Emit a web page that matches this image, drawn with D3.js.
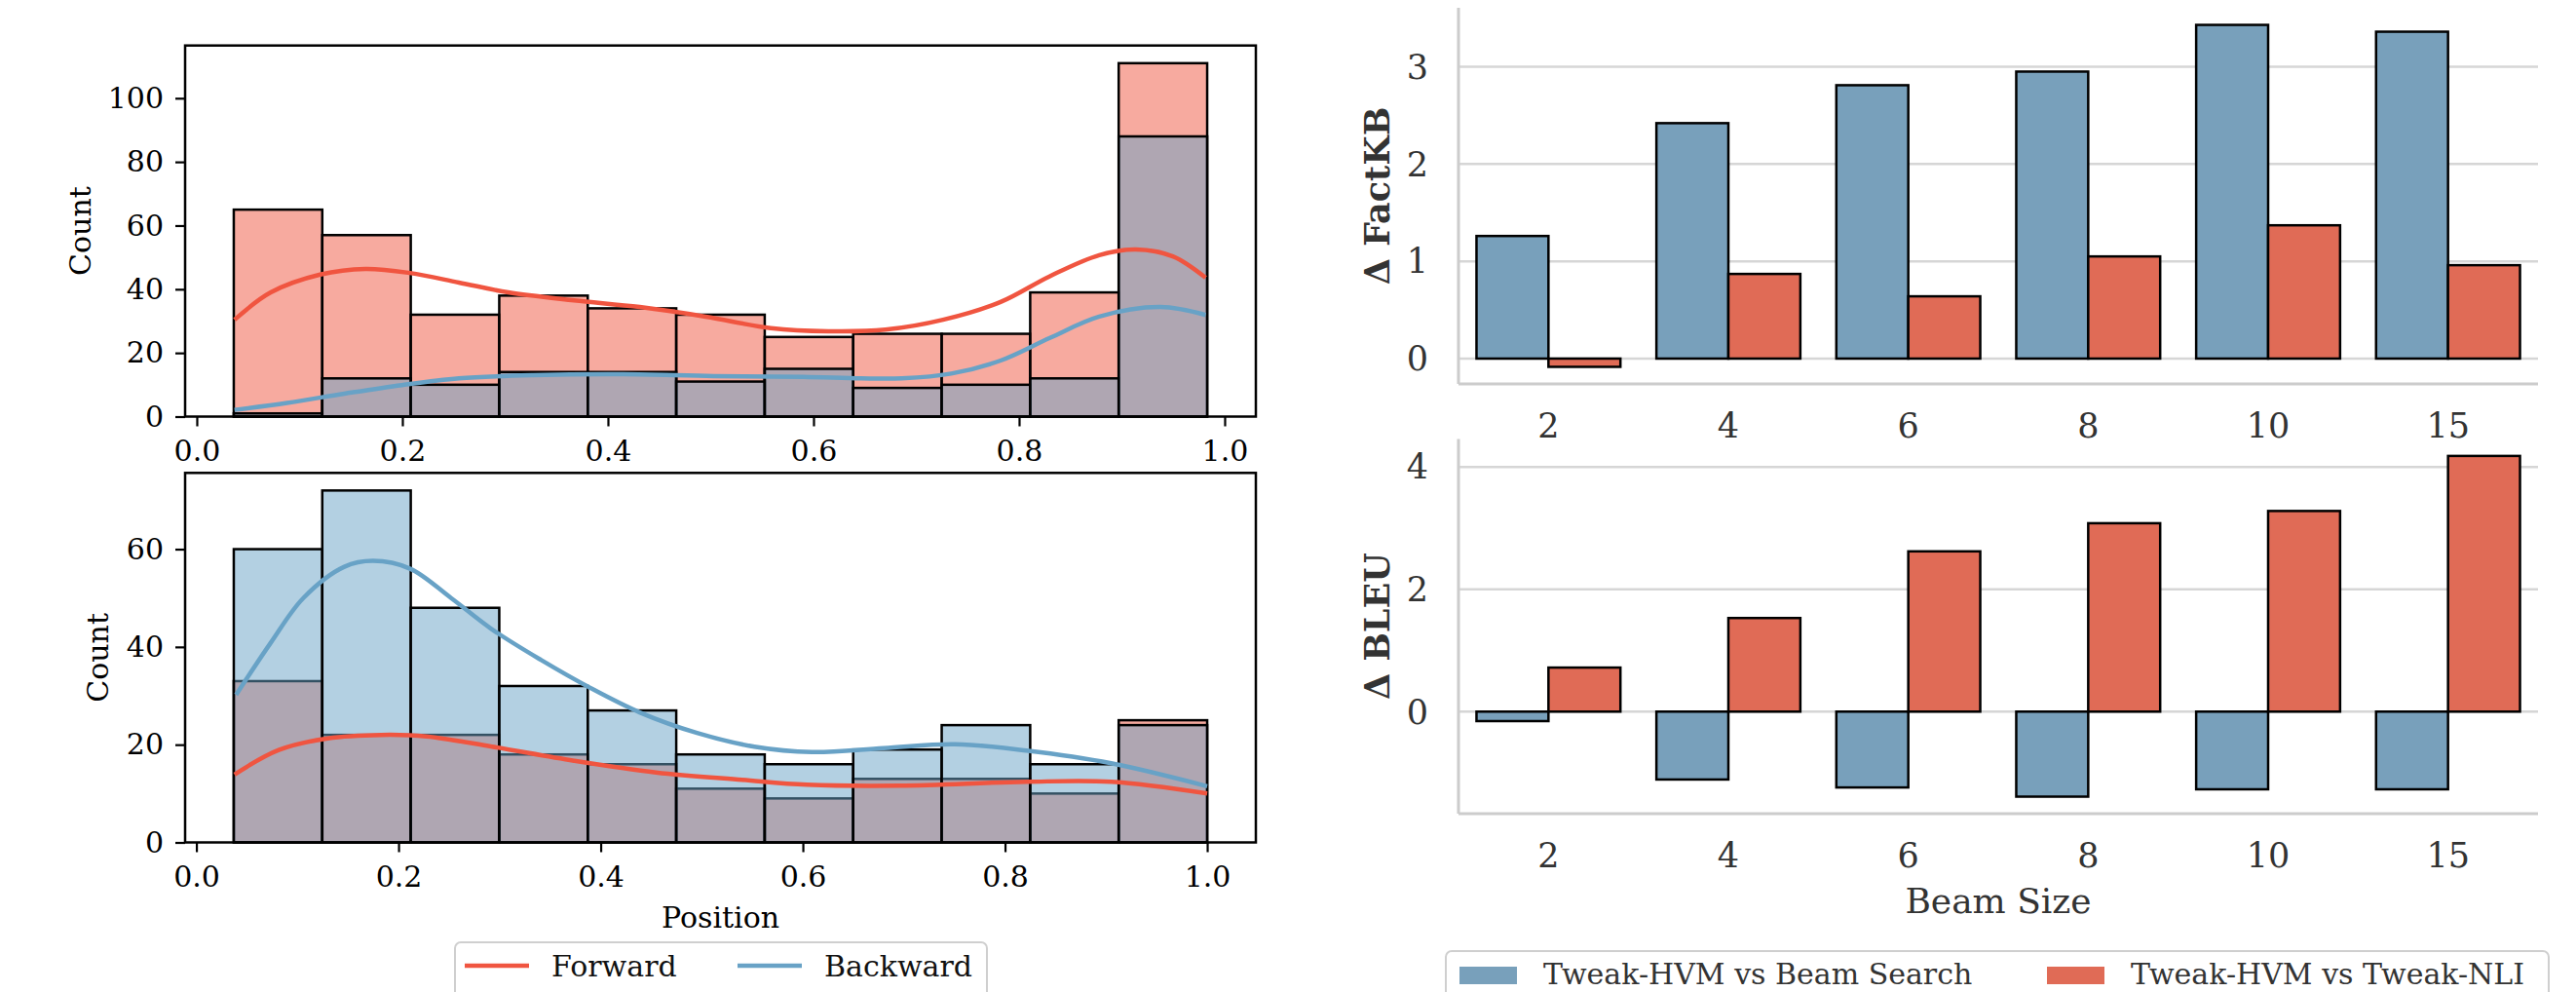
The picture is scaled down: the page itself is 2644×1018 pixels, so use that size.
<!DOCTYPE html>
<html><head><meta charset="utf-8">
<script src="https://cdn.jsdelivr.net/npm/d3@7"></script>
<style>body{margin:0;background:#fff}svg{display:block}</style>
</head><body>
<svg id="c" width="2644" height="1018"></svg>
<script>
// ---------------- DATA ----------------
const positionTicks = [0, 0.2, 0.4, 0.6, 0.8, 1.0];
const seriesNames = ["Forward", "Backward"];

const topBinRange = [0.036, 0.983];
const topForward  = [65, 57, 32, 38, 34, 32, 25, 26, 26, 39, 111];
const topBackward = [1, 12, 10, 14, 14, 11, 15, 9, 10, 12, 88];
const topCountTicks = [0, 20, 40, 60, 80, 100];

const botBinRange = [0.037, 1.0];
const botForward  = [33, 22, 22, 18, 16, 11, 9, 13, 13, 10, 25];
const botBackward = [60, 72, 48, 32, 27, 18, 16, 19, 24, 16, 24];
const botCountTicks = [0, 20, 40, 60];

// KDE curves: [position, count]
const topKdeForward = [[0.0367,30.4],[0.072,39.0],[0.12,44.6],[0.164,46.4],[0.2075,45.1],[0.255,42.1],[0.303,39.0],[0.367,36.5],[0.431,34.4],[0.495,31.4],[0.5585,27.8],[0.6145,26.8],[0.67,27.3],[0.726,30.4],[0.782,36.0],[0.83,44.1],[0.878,50.7],[0.9137,52.5],[0.9496,50.3],[0.9815,43.6]];
const topKdeBackward = [[0.0367,2.1],[0.0878,4.3],[0.1436,7.2],[0.1995,9.9],[0.255,12.0],[0.327,13.0],[0.415,13.3],[0.503,12.7],[0.59,12.5],[0.646,12.0],[0.686,12.0],[0.734,13.5],[0.782,17.6],[0.83,24.7],[0.878,31.4],[0.9375,34.4],[0.9815,31.9]];
const botKdeForward = [[0.0377,13.9],[0.0815,18.9],[0.13,21.3],[0.183,22.0],[0.2276,21.7],[0.2924,19.6],[0.3736,16.7],[0.4547,14.3],[0.54,12.8],[0.604,11.8],[0.696,11.6],[0.821,12.4],[0.905,12.4],[1.0,10.0]];
const botKdeBackward = [[0.0393,30.2],[0.0734,40.8],[0.1058,50.0],[0.1464,56.4],[0.1748,57.6],[0.2114,56.0],[0.252,50.0],[0.2924,43.6],[0.3412,37.3],[0.3898,31.6],[0.4386,26.6],[0.4953,22.4],[0.552,19.6],[0.6089,18.5],[0.68,19.3],[0.75,20.1],[0.821,18.8],[0.905,16.2],[1.0,11.5]];

const beamSizes = ["2", "4", "6", "8", "10", "15"];
const comparisons = ["Tweak-HVM vs Beam Search", "Tweak-HVM vs Tweak-NLI"];
const factKBBeam = [1.26, 2.42, 2.81, 2.95, 3.43, 3.36];
const factKBNLI  = [-0.085, 0.87, 0.64, 1.05, 1.37, 0.96];
const bleuBeam   = [-0.155, -1.11, -1.24, -1.39, -1.27, -1.27];
const bleuNLI    = [0.72, 1.53, 2.62, 3.08, 3.28, 4.18];
const factKBTicks = [0, 1, 2, 3];
const bleuTicks = [0, 2, 4];

// ---------------- STYLE ----------------
const FONT = "DejaVu Serif";
const colForward = "#f05540";
const colBackward = "#68a2c6";
const colBeam = "#78a0bb";
const colNLI = "#e06b56";

const svg = d3.select("#c");

// ---------------- HISTOGRAMS ----------------
function histPanel(o) {
  const nb = o.fwd.length;
  const span = o.range[1] - o.range[0];
  const pad = span * 0.05;
  const x = d3.scaleLinear().domain([o.range[0] - pad, o.range[1] + pad]).range([190, 1289]);
  const ymax = d3.max(o.fwd.concat(o.bwd)) * 1.05;
  const y = d3.scaleLinear().domain([0, ymax]).range([o.bottom, o.top]);
  const g = svg.append("g");
  const edges = d3.range(nb + 1).map(i => o.range[0] + i * span / nb);

  [[o.fwd, colForward], [o.bwd, colBackward]].forEach(([vals, col]) => {
    g.append("g").selectAll("rect").data(vals).join("rect")
      .attr("x", (d, i) => x(edges[i]))
      .attr("width", (d, i) => x(edges[i + 1]) - x(edges[i]))
      .attr("y", d => y(d))
      .attr("height", d => y(0) - y(d))
      .attr("fill", col).attr("fill-opacity", 0.5)
      .attr("stroke", "#000").attr("stroke-width", 2.5);
  });

  const line = d3.line().x(d => x(d[0])).y(d => y(d[1])).curve(d3.curveCatmullRom.alpha(0.5));
  [[o.kf, colForward], [o.kb, colBackward]].forEach(([pts, col]) => {
    g.append("path").attr("d", line(pts)).attr("fill", "none")
      .attr("stroke", col).attr("stroke-width", 4.5).attr("stroke-linecap", "butt");
  });

  // spines
  g.append("rect").attr("x", 190).attr("y", o.top).attr("width", 1289 - 190)
    .attr("height", o.bottom - o.top).attr("fill", "none")
    .attr("stroke", "#000").attr("stroke-width", 2.5);

  const ya = g.append("g").attr("transform", "translate(190,0)")
    .call(d3.axisLeft(y).tickValues(o.yticks).tickSize(10).tickPadding(12).tickFormat(d3.format("d")));
  const xa = g.append("g").attr("transform", `translate(0,${o.bottom})`)
    .call(d3.axisBottom(x).tickValues(positionTicks).tickSize(10).tickPadding(14).tickFormat(d3.format(".1f")));
  [ya, xa].forEach(a => {
    a.select(".domain").remove();
    a.selectAll("line").attr("stroke", "#000").attr("stroke-width", 2.2);
    a.selectAll("text").attr("font-family", FONT).attr("font-size", 30).attr("fill", "#000");
  });

  g.append("text").attr("transform", `translate(${o.labelX},${(o.top + o.bottom) / 2}) rotate(-90)`)
    .attr("text-anchor", "middle").attr("font-family", FONT).attr("font-size", 30).text("Count");
}

histPanel({range: topBinRange, fwd: topForward, bwd: topBackward, kf: topKdeForward, kb: topKdeBackward,
  top: 46.7, bottom: 427.5, yticks: topCountTicks, labelX: 93});
histPanel({range: botBinRange, fwd: botForward, bwd: botBackward, kf: botKdeForward, kb: botKdeBackward,
  top: 485.3, bottom: 864.5, yticks: botCountTicks, labelX: 111});

svg.append("text").attr("x", 739.5).attr("y", 951.7).attr("text-anchor", "middle")
  .attr("font-family", FONT).attr("font-size", 30).text("Position");

// left legend
{
  const g = svg.append("g");
  g.append("rect").attr("x", 467).attr("y", 967).attr("width", 546).attr("height", 80).attr("rx", 6)
    .attr("fill", "#fff").attr("stroke", "#cfcfcf").attr("stroke-width", 2);
  const items = [{n: seriesNames[0], c: colForward, x: 477}, {n: seriesNames[1], c: colBackward, x: 757}];
  items.forEach(it => {
    g.append("line").attr("x1", it.x).attr("x2", it.x + 66).attr("y1", 991).attr("y2", 991)
      .attr("stroke", it.c).attr("stroke-width", 4.5);
    g.append("text").attr("x", it.x + 89).attr("y", 1001.5).attr("font-family", FONT)
      .attr("font-size", 30).attr("fill", "#111").text(it.n);
  });
}

// ---------------- BAR PANELS ----------------
function barPanel(o) {
  const x = d3.scaleBand().domain(beamSizes).range([1497, 2605]).paddingInner(0.2).paddingOuter(0.1);
  const xs = d3.scaleBand().domain(comparisons).range([0, x.bandwidth()]);
  const all = o.a.concat(o.b, [0]);
  const lo = d3.min(all), hi = d3.max(all), pad = (hi - lo) * 0.05;
  const y = d3.scaleLinear().domain([lo - pad, hi + pad]).range([o.bottom, o.top]);
  const g = svg.append("g");

  g.selectAll(".grid").data(o.ticks).join("line")
    .attr("x1", 1497).attr("x2", 2605).attr("y1", d => y(d)).attr("y2", d => y(d))
    .attr("stroke", "#d6d6d6").attr("stroke-width", 2.5);
  g.append("line").attr("x1", 1497).attr("x2", 1497).attr("y1", o.top).attr("y2", o.bottom)
    .attr("stroke", "#cccccc").attr("stroke-width", 3);
  g.append("line").attr("x1", 1497).attr("x2", 2605).attr("y1", o.bottom).attr("y2", o.bottom)
    .attr("stroke", "#cccccc").attr("stroke-width", 3);

  [[o.a, comparisons[0], colBeam], [o.b, comparisons[1], colNLI]].forEach(([vals, key, col]) => {
    g.append("g").selectAll("rect").data(vals).join("rect")
      .attr("x", (d, i) => x(beamSizes[i]) + xs(key))
      .attr("width", xs.bandwidth())
      .attr("y", d => y(Math.max(0, d)))
      .attr("height", d => Math.abs(y(d) - y(0)))
      .attr("fill", col).attr("stroke", "#000").attr("stroke-width", 2.5);
  });

  g.selectAll(".yt").data(o.ticks).join("text")
    .attr("x", 1466).attr("y", d => y(d)).attr("dy", "0.35em").attr("text-anchor", "end")
    .attr("font-family", FONT).attr("font-size", 35).attr("fill", "#333").text(d => d);
  g.selectAll(".xt").data(beamSizes).join("text")
    .attr("x", d => x(d) + x.bandwidth() / 2).attr("y", o.bottom + 54.5).attr("text-anchor", "middle")
    .attr("font-family", FONT).attr("font-size", 35).attr("fill", "#333").text(d => d);

  g.append("text").attr("transform", `translate(1426,${(o.top + o.bottom) / 2}) rotate(-90)`)
    .attr("text-anchor", "middle").attr("font-family", FONT).attr("font-weight", "bold")
    .attr("font-size", 35).attr("fill", "#333").text(o.label);
}

barPanel({a: factKBBeam, b: factKBNLI, ticks: factKBTicks, top: 8, bottom: 394, label: "Δ FactKB"});
barPanel({a: bleuBeam, b: bleuNLI, ticks: bleuTicks, top: 450.4, bottom: 835, label: "Δ BLEU"});

svg.append("text").attr("x", 2051).attr("y", 937).attr("text-anchor", "middle")
  .attr("font-family", FONT).attr("font-size", 36).attr("fill", "#333").text("Beam Size");

// right legend
{
  const g = svg.append("g");
  g.append("rect").attr("x", 1484).attr("y", 976).attr("width", 1132).attr("height", 80).attr("rx", 6)
    .attr("fill", "#fff").attr("stroke", "#cfcfcf").attr("stroke-width", 2);
  const items = [{n: comparisons[0], c: colBeam, x: 1498}, {n: comparisons[1], c: colNLI, x: 2101}];
  items.forEach(it => {
    g.append("rect").attr("x", it.x).attr("y", 992).attr("width", 59).attr("height", 18).attr("fill", it.c);
    g.append("text").attr("x", it.x + 86).attr("y", 1010).attr("font-family", FONT)
      .attr("font-size", 30).attr("fill", "#333").text(it.n);
  });
}
</script>
</body></html>
